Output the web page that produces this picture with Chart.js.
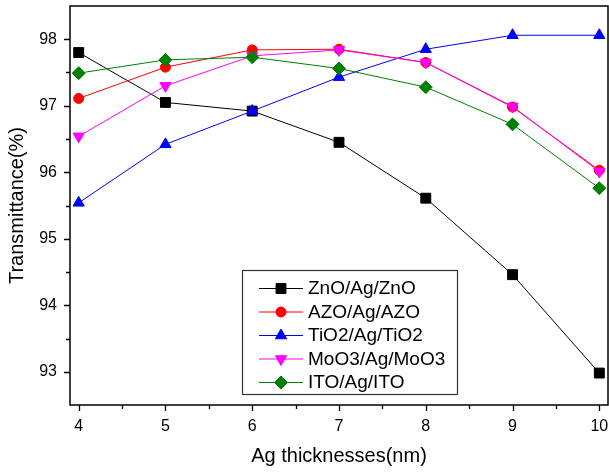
<!DOCTYPE html>
<html>
<head>
<meta charset="utf-8">
<script src="https://cdn.jsdelivr.net/npm/chart.js@4.4.1/dist/chart.umd.min.js"></script>
<style>
  html, body { margin: 0; padding: 0; background: #fff; overflow: hidden; }
  #wrap { width: 609px; height: 473px; }
</style>
</head>
<body>
<div id="wrap"><canvas id="chart"></canvas></div>
<script>
// Ag thickness (nm) on the x axis
const thickness = [4, 5, 6, 7, 8, 9, 10];

// transmittance (%) per stack
const znoAgZno   = [97.80, 97.05, 96.92, 96.45, 95.61, 94.46, 92.98];
const azoAgAzo   = [97.11, 97.58, 97.84, 97.85, 97.65, 96.98, 96.03];
const tio2AgTio2 = [95.54, 96.42, 96.92, 97.43, 97.85, 98.06, 98.06];
const moo3AgMoo3 = [96.54, 97.30, 97.75, 97.84, 97.65, 96.99, 96.01];
const itoAgIto   = [97.49, 97.69, 97.73, 97.56, 97.28, 96.72, 95.76];

const seriesNames = ['ZnO/Ag/ZnO', 'AZO/Ag/AZO', 'TiO2/Ag/TiO2', 'MoO3/Ag/MoO3', 'ITO/Ag/ITO'];

const xTicks = [4, 4.5, 5, 5.5, 6, 6.5, 7, 7.5, 8, 8.5, 9, 9.5, 10];
const yTicks = [93, 93.5, 94, 94.5, 95, 95.5, 96, 96.5, 97, 97.5, 98];

const FONT = '"Liberation Sans", Arial, sans-serif';

function pts(values) {
    return thickness.map((x, i) => ({ x: x, y: values[i] }));
}

function makeSet(label, values, color, style, radius, rotation, order) {
    return {
        label: label,
        data: pts(values),
        borderColor: color,
        backgroundColor: color,
        borderWidth: 1,
        pointStyle: style,
        pointRadius: radius,
        pointRotation: rotation,
        pointBorderWidth: 1,
        pointBorderColor: color,
        pointBackgroundColor: color,
        tension: 0,
        clip: false,
        order: order
    };
}

const datasets = [
    makeSet(seriesNames[0], znoAgZno, '#000000', 'rect', 7, 0, 5),
    makeSet(seriesNames[1], azoAgAzo, '#ff0000', 'circle', 5, 0, 4),
    makeSet(seriesNames[2], tio2AgTio2, '#0000ff', 'triangle', 6.5, 0, 3),
    makeSet(seriesNames[3], moo3AgMoo3, '#ff00ff', 'triangle', 6.5, 180, 2),
    makeSet(seriesNames[4], itoAgIto, '#008000', 'rectRot', 6.5, 0, 1)
];

// frame round the plot plus outward tick marks
const framePlugin = {
    id: 'frame',
    afterDraw(chart) {
        const { ctx, chartArea: a, scales } = chart;
        ctx.save();
        ctx.strokeStyle = '#000';
        ctx.lineWidth = 1.5;
        ctx.strokeRect(a.left, a.top, a.right - a.left, a.bottom - a.top);

        ctx.lineWidth = 1.3;
        ctx.beginPath();
        xTicks.forEach(v => {
            const x = Math.round(scales.x.getPixelForValue(v)) + 0.5;
            const len = Number.isInteger(v) ? 6 : 4;
            ctx.moveTo(x, a.bottom);
            ctx.lineTo(x, a.bottom + len);
        });
        yTicks.forEach(v => {
            const y = Math.round(scales.y.getPixelForValue(v)) + 0.5;
            const len = Number.isInteger(v) ? 6 : 4;
            ctx.moveTo(a.left, y);
            ctx.lineTo(a.left - len, y);
        });
        ctx.stroke();
        ctx.restore();
    }
};

// boxed legend sitting inside the plot, lower middle
const legendPlugin = {
    id: 'boxLegend',
    afterDraw(chart) {
        const ctx = chart.ctx;
        const a = chart.chartArea;
        const boxL = a.left + 172, boxT = a.top + 264, boxW = 215, boxH = 124;
        ctx.save();
        ctx.fillStyle = '#fff';
        ctx.fillRect(boxL, boxT, boxW, boxH);
        ctx.strokeStyle = '#333';
        ctx.lineWidth = 1.2;
        ctx.strokeRect(boxL + 0.5, boxT + 0.5, boxW, boxH);

        ctx.font = '19px ' + FONT;
        ctx.textBaseline = 'middle';
        datasets.forEach((ds, i) => {
            const y = boxT + 18 + i * 23.5;
            ctx.strokeStyle = ds.borderColor;
            ctx.lineWidth = 1;
            ctx.beginPath();
            ctx.moveTo(boxL + 17, y + 0.5);
            ctx.lineTo(boxL + 61, y + 0.5);
            ctx.stroke();
            ctx.fillStyle = ds.pointBackgroundColor;
            ctx.strokeStyle = ds.pointBorderColor;
            Chart.helpers.drawPoint(ctx, {
                pointStyle: ds.pointStyle,
                radius: ds.pointRadius,
                rotation: ds.pointRotation,
                borderWidth: 1
            }, boxL + 39, y + 0.5);
            ctx.fillStyle = '#000';
            ctx.fillText(ds.label, boxL + 66, y + 1);
        });
        ctx.restore();
    }
};

new Chart(document.getElementById('chart'), {
    type: 'line',
    data: { datasets: datasets },
    options: {
        responsive: true,
        maintainAspectRatio: false,
        animation: false,
        layout: { autoPadding: false, padding: { top: 6, right: 1, left: 0, bottom: 0 } },
        plugins: {
            legend: { display: false },
            tooltip: { enabled: false }
        },
        scales: {
            x: {
                type: 'linear',
                min: 3.9,
                max: 10.1,
                afterBuildTicks: s => { s.ticks = xTicks.map(v => ({ value: v })); },
                afterFit: s => {
                    s.height = 68;
                    s.paddingLeft = 0;
                    s.paddingRight = 0;
                },
                grid: { display: false, drawTicks: false },
                border: { display: false },
                ticks: {
                    autoSkip: false,
                    maxRotation: 0,
                    padding: 12,
                    color: '#000',
                    font: { family: FONT, size: 16 },
                    callback: v => Number.isInteger(v) ? String(v) : ''
                },
                title: {
                    display: true,
                    text: 'Ag thicknesses(nm)',
                    color: '#000',
                    font: { family: FONT, size: 20 },
                    padding: { top: 5, bottom: 5 }
                }
            },
            y: {
                min: 92.5,
                max: 98.5,
                afterBuildTicks: s => { s.ticks = yTicks.map(v => ({ value: v })); },
                afterFit: s => {
                    s.width = 70;
                    s.paddingTop = 0;
                    s.paddingBottom = 0;
                },
                grid: { display: false, drawTicks: false },
                border: { display: false },
                ticks: {
                    autoSkip: false,
                    padding: 13,
                    color: '#000',
                    font: { family: FONT, size: 16 },
                    callback: v => Number.isInteger(v) ? String(v) : ''
                },
                title: {
                    display: true,
                    text: 'Transmittance(%)',
                    color: '#000',
                    font: { family: FONT, size: 20 },
                    padding: { top: 5, bottom: 5 }
                }
            }
        }
    },
    plugins: [framePlugin, legendPlugin]
});
</script>
</body>
</html>
